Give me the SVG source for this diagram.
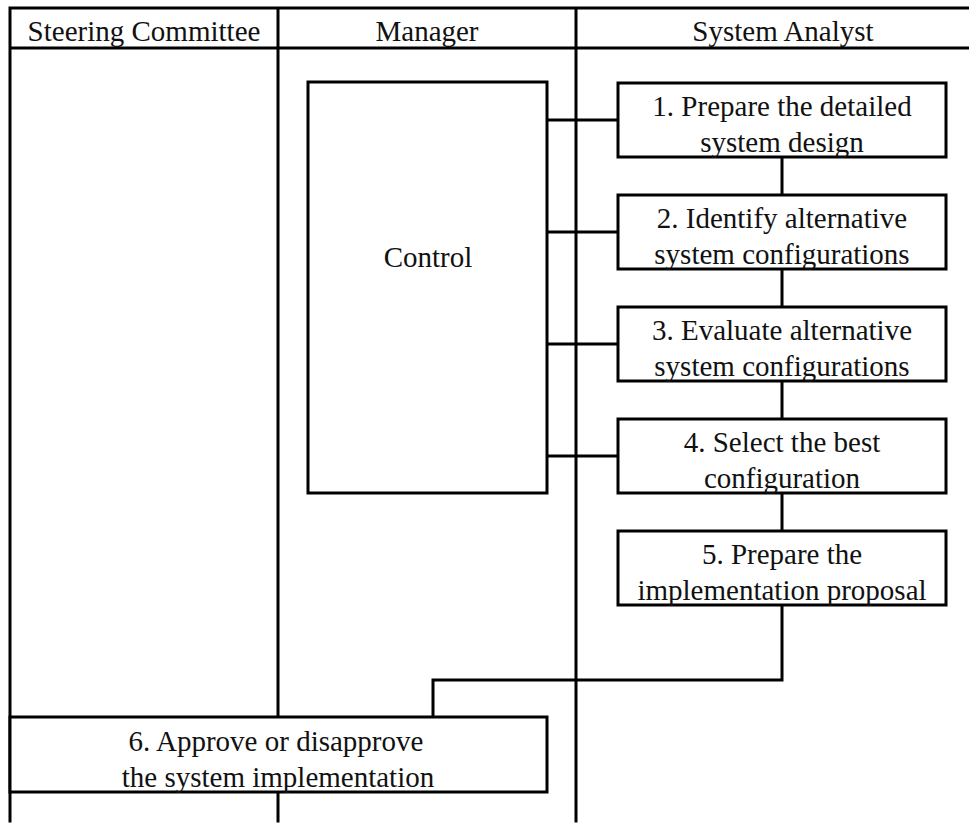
<svg xmlns="http://www.w3.org/2000/svg" width="969" height="825" viewBox="0 0 969 825">
<style>
.ln{stroke:#000;stroke-width:3;fill:none;stroke-linecap:square}
.bx{stroke:#000;stroke-width:3;fill:#fff}
.t{font-family:"Liberation Serif","Times New Roman",serif;font-size:29px;fill:#111;text-anchor:middle}
</style>
<rect width="969" height="825" fill="#fff"/>
<g id="lanes">
<path class="ln" d="M10 8H969M10 48H969M10 8V821M278 8V821M576 8V821"/>
<text class="t" x="144" y="41">Steering Committee</text>
<text class="t" x="427" y="41">Manager</text>
<text class="t" x="783" y="41">System Analyst</text>
</g>
<g id="connectors">
<path class="ln" d="M547 120H618M547 232H618M547 344H618M547 456H618"/>
<path class="ln" d="M782 157V195M782 269V307M782 381V419M782 493V531"/>
<path class="ln" d="M782 605V680H433V717"/>
</g>
<g id="control">
<rect class="bx" x="308" y="82" width="239" height="411"/>
<text class="t" x="428" y="267">Control</text>
</g>
<g id="step1">
<rect class="bx" x="618" y="83" width="328" height="74"/>
<text class="t" x="782" y="116">1. Prepare the detailed</text>
<text class="t" x="782" y="152">system design</text>
</g>
<g id="step2">
<rect class="bx" x="618" y="195" width="328" height="74"/>
<text class="t" x="782" y="228">2. Identify alternative</text>
<text class="t" x="782" y="264">system configurations</text>
</g>
<g id="step3">
<rect class="bx" x="618" y="307" width="328" height="74"/>
<text class="t" x="782" y="340">3. Evaluate alternative</text>
<text class="t" x="782" y="376">system configurations</text>
</g>
<g id="step4">
<rect class="bx" x="618" y="419" width="328" height="74"/>
<text class="t" x="782" y="452">4. Select the best</text>
<text class="t" x="782" y="488">configuration</text>
</g>
<g id="step5">
<rect class="bx" x="618" y="531" width="328" height="74"/>
<text class="t" x="782" y="564">5. Prepare the</text>
<text class="t" x="782" y="600">implementation proposal</text>
</g>
<g id="step6">
<rect class="bx" x="10" y="717" width="537" height="75"/>
<text class="t" x="276" y="751">6. Approve or disapprove</text>
<text class="t" x="278" y="787">the system implementation</text>
</g>
</svg>
